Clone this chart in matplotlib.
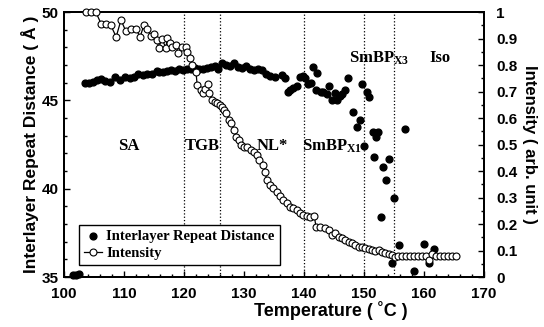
import numpy as np
import matplotlib.pyplot as plt
from matplotlib.ticker import MultipleLocator, FuncFormatter

# interlayer repeat distance (filled dots, left axis)
dist_T = [101.5, 102.0, 102.5,
          103.5, 104.2, 104.8, 105.5, 106.2, 106.8, 107.7, 108.5, 109.3, 110.2,
          111.0, 111.7, 112.3, 113.2, 113.8, 114.7, 115.5, 115.8, 116.5, 117.2,
          117.8, 118.5, 119.2, 119.8, 120.5, 121.2, 121.8, 122.5, 123.2, 123.8,
          124.5, 125.2, 125.7, 126.3, 127.0, 127.7, 128.3, 129.0, 129.7, 130.3,
          131.0, 131.7, 132.3, 133.0, 133.7, 134.3, 135.2, 136.3, 136.8, 137.3,
          137.7, 138.2, 138.8, 139.3, 139.8, 140.2, 140.7, 141.2, 141.5, 142.0,
          142.2, 142.8, 143.2, 143.8, 144.2, 144.7, 145.2, 145.5, 146.0, 146.3,
          146.8, 147.3, 148.2, 148.8, 149.3, 149.7, 150.0, 150.5, 150.8, 151.5,
          152.0, 152.3, 151.6, 153.2, 153.7, 154.2, 152.8, 155.0, 154.7, 155.8,
          156.8, 158.3, 160.0, 160.8, 161.7]
dist_D = [35.1, 35.1, 35.15,
          46.0, 46.0, 46.05, 46.15, 46.2, 46.1, 46.05, 46.3, 46.15, 46.3,
          46.25, 46.3, 46.5, 46.45, 46.5, 46.5, 46.65, 46.6, 46.6, 46.65,
          46.7, 46.65, 46.75, 46.7, 46.8, 46.75, 46.85, 46.8, 46.8, 46.85,
          46.9, 46.95, 46.75, 47.1, 47.0, 46.95, 47.1, 46.9, 46.85, 46.95,
          46.75, 46.7, 46.75, 46.7, 46.5, 46.4, 46.3, 46.43, 46.25, 45.47,
          45.6, 45.7, 45.8, 46.3, 46.4, 46.25, 45.95, 46.0, 46.9, 45.6,
          46.55, 45.5, 45.47, 45.35, 45.8, 45.0, 45.4, 45.0, 45.25, 45.35,
          45.6, 46.26, 44.34, 43.5, 43.9, 45.9, 42.4, 45.5, 45.2, 43.2,
          42.9, 43.2, 41.8, 41.2, 40.5, 41.7, 38.4, 39.47, 35.8, 36.8,
          43.4, 35.34, 36.87, 35.8, 36.6]

# scattered intensity (open circles, right axis)
int_T = [103.7, 104.5, 105.3, 106.2, 107.0, 107.8, 108.7, 109.5, 110.3, 111.2,
         112.0, 112.7, 113.3, 113.8, 114.5, 115.0, 115.5, 115.8, 116.3, 117.0,
         117.2, 117.7, 118.0, 118.7, 119.0, 119.7, 120.3, 120.5, 121.0, 121.3,
         122.0, 122.2, 122.8, 123.2, 123.5, 124.0, 124.2, 124.7, 125.2, 125.5,
         126.0, 126.3, 126.7, 127.0, 127.5, 127.8, 128.3, 128.7, 129.2, 129.5,
         130.0, 130.5, 131.2, 131.7, 132.2, 132.5, 133.2, 133.5, 133.8, 134.3,
         134.8, 135.5, 136.0, 136.5, 137.2, 137.7, 138.2, 138.8, 139.3, 139.8,
         140.5, 141.0, 141.7, 142.0, 142.7, 143.5, 144.2, 144.7, 145.2, 145.8,
         146.3, 146.8, 147.5, 148.0, 148.5, 149.2, 149.7, 150.2, 150.8, 151.3,
         151.8, 152.5, 153.0, 153.5, 154.2, 154.7, 155.2, 155.7, 156.3, 157.0,
         157.7, 158.3, 159.0, 159.7, 160.3, 160.8, 161.3, 162.0, 162.7, 163.3,
         164.0, 164.7, 165.3]
int_I = [1.0, 1.0, 1.0, 0.955, 0.955, 0.95, 0.906, 0.97, 0.928, 0.936,
         0.936, 0.906, 0.95, 0.936, 0.91, 0.917, 0.894, 0.864, 0.90, 0.864,
         0.902, 0.883, 0.868, 0.875, 0.845, 0.868, 0.868, 0.849, 0.826, 0.80,
         0.773, 0.725, 0.706, 0.694, 0.709, 0.728, 0.694, 0.668, 0.66, 0.657,
         0.649, 0.642, 0.63, 0.619, 0.592, 0.581, 0.555, 0.528, 0.517, 0.498,
         0.49, 0.49, 0.479, 0.47, 0.46, 0.441, 0.423, 0.396, 0.366, 0.347,
         0.336, 0.32, 0.305, 0.29, 0.279, 0.264, 0.26, 0.253, 0.242, 0.234,
         0.23, 0.226, 0.232, 0.19, 0.19, 0.185, 0.177, 0.158, 0.165, 0.151,
         0.147, 0.14, 0.132, 0.128, 0.121, 0.113, 0.113, 0.109, 0.106, 0.102,
         0.098, 0.102, 0.094, 0.09, 0.087, 0.083, 0.077, 0.08, 0.08, 0.08,
         0.08, 0.08, 0.08, 0.08, 0.08, 0.064, 0.085, 0.08, 0.078, 0.078,
         0.078, 0.078, 0.078]

phase_bounds = [120, 126, 140, 150, 155]
phase_labels = ['SA', 'TGB', 'NL*', r'SmBP$_{X1}$', r'SmBP$_{X3}$', 'Iso']
phase_x = [110.8, 123.0, 134.8, 144.7, 152.6, 162.7]
phase_y = [42.4, 42.4, 42.4, 42.4, 47.4, 47.4]

plt.rcParams['font.family'] = ['Liberation Sans', 'DejaVu Sans']
plt.rcParams['font.weight'] = 'bold'
plt.rcParams['mathtext.fontset'] = 'custom'
plt.rcParams['mathtext.rm'] = 'Liberation Serif:bold'
plt.rcParams['mathtext.it'] = 'Liberation Serif:bold'
plt.rcParams['mathtext.default'] = 'rm'

fig = plt.figure(figsize=(5.44, 3.27), dpi=100)
ax = fig.add_axes([0.1176, 0.1529, 0.7721, 0.8104])
ax2 = ax.twinx()

ax.scatter(dist_T, dist_D, s=24, color='black', zorder=3, clip_on=False)
ax2.plot(int_T, int_I, '-o', color='black', lw=0.9, ms=5, mfc='white',
         mec='black', mew=0.8, zorder=3, clip_on=False)

for b in phase_bounds:
    ax.axvline(b, color='black', ls=':', lw=0.9)
for lab, x, y in zip(phase_labels, phase_x, phase_y):
    ax.text(x, y, lab, family='Liberation Serif', fontsize=12,
            fontweight='bold', ha='center', va='center', zorder=4)

ax.set_xlim(100, 170)
ax.set_ylim(35, 50)
ax2.set_ylim(0, 1)

ax.xaxis.set_major_locator(MultipleLocator(10))
ax.xaxis.set_minor_locator(MultipleLocator(2))
ax.yaxis.set_major_locator(MultipleLocator(5))
ax.yaxis.set_minor_locator(MultipleLocator(1))
ax2.yaxis.set_major_locator(MultipleLocator(0.1))
ax2.yaxis.set_minor_locator(MultipleLocator(0.05))
ax2.yaxis.set_major_formatter(FuncFormatter(lambda v, p: '%g' % round(v, 2)))

ax.tick_params(axis='both', which='both', direction='in', top=False,
               labelsize=11, width=1)
ax.tick_params(axis='x', pad=7)
ax.tick_params(axis='y', pad=4)
ax.tick_params(which='major', length=4)
ax.tick_params(which='minor', length=2.5)
ax2.tick_params(axis='y', which='both', direction='in', labelsize=11, width=1,
                pad=9)
ax2.tick_params(which='major', length=4)
ax2.tick_params(which='minor', length=2.5)
for a in (ax, ax2):
    for s in a.spines.values():
        s.set_linewidth(1.4)

ax.set_xlabel('Temperature ( \u02daC )', fontsize=13, fontweight='bold',
              labelpad=1)
ax.xaxis.set_label_coords(0.636, -0.09)
ax.set_ylabel('Interlayer Repeat Distance ( Å )', fontsize=12.5,
              fontweight='bold', labelpad=2)
ax2.set_ylabel('Intensity ( arb. unit )', fontsize=12,
               fontweight='bold', rotation=270, labelpad=14)

h1 = ax.scatter([], [], s=24, color='black')
h2, = ax2.plot([], [], '-o', color='black', lw=0.9, ms=5, mfc='white',
               mec='black', mew=0.8)
leg = ax2.legend([h1, h2], ['Interlayer Repeat Distance', 'Intensity'],
                 loc='lower left', bbox_to_anchor=(0.036, 0.045),
                 prop={'family': 'Liberation Serif', 'weight': 'bold', 'size': 10.5},
                 fancybox=False, edgecolor='black', framealpha=1,
                 handlelength=1.2, handletextpad=0.3, borderpad=0.35,
                 labelspacing=0.25, borderaxespad=0)
leg.get_frame().set_linewidth(1)

fig.savefig('out.png', dpi=100)
